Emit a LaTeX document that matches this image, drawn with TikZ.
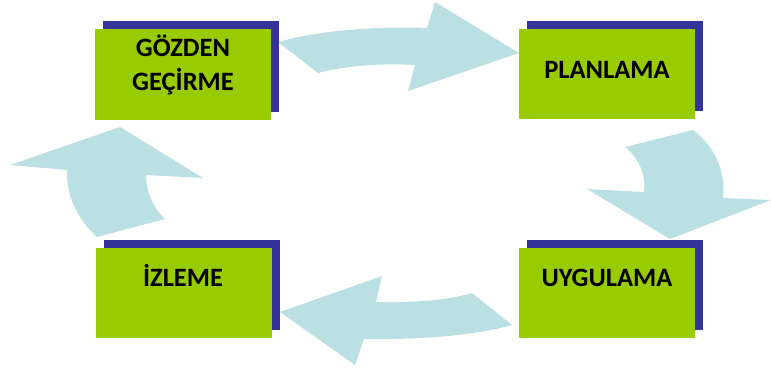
\documentclass[tikz,border=0pt]{standalone}
\usepackage{fontspec}
\setmainfont{Carlito}
\usetikzlibrary{positioning,shadows}

\definecolor{boxgreen}{RGB}{153,204,0}
\definecolor{boxshadow}{RGB}{51,51,153}
\definecolor{arrowblue}{RGB}{186,224,228}

\begin{document}
\begin{tikzpicture}[x=1pt,y=-1pt,
  stage/.style={rectangle,fill=boxgreen,inner sep=0pt,
    minimum width=176pt,minimum height=90pt,
    general shadow={fill=boxshadow,shadow xshift=8pt,shadow yshift=8pt}},
  lbl/.style={font=\fontsize{26.5}{34}\selectfont\bfseries,align=center,inner sep=0pt},
  bigarrow/.style={fill=arrowblue}]
  \useasboundingbox (0,0) rectangle (771,369);

  % Curved block arrows
  \fill[bigarrow] (278,42) .. controls (320,30) and (380,26) .. (427,28)
    -- (435,2) -- (519,53) -- (408,91) -- (415,65)
    .. controls (380,63) and (345,66) .. (318,73) -- cycle;
  \fill[bigarrow] (693,130) .. controls (714,146) and (726,170) .. (723,198)
    -- (771,200) -- (670,239) -- (587,189) -- (644,192)
    .. controls (646,178) and (641,160) .. (625,147) -- cycle;
  \fill[bigarrow] (472,293) .. controls (449,300) and (414,303) .. (376,302)
    -- (382,276) -- (280,312) -- (355,365) -- (364,339)
    .. controls (414,340) and (474,336) .. (512,325) -- cycle;
  \fill[bigarrow] (97,237) .. controls (78,220) and (66,196) .. (67,170)
    -- (10,165) -- (120,127) -- (203,178) -- (146,175)
    .. controls (146,188) and (151,206) .. (165,219) -- cycle;

  % Boxes
  \node[stage] (gozden)   at (183,74.5) {};
  \node[stage] (planlama) at (607,74)   {};
  \node[stage] (uygulama) at (607,293)  {};
  \node[stage] (izleme)   at (184,293)  {};

  \node[lbl,anchor=base] (t1) at (183,90.4) {GÖZDEN\\GEÇİRME};
  \node[lbl,anchor=base] (t2) at (607,78.4) {PLANLAMA};
  \node[lbl,anchor=base] (t3) at (607,286.4) {UYGULAMA};
  \node[lbl,anchor=base] (t4) at (183,286) {İZLEME};
\end{tikzpicture}
\end{document}
